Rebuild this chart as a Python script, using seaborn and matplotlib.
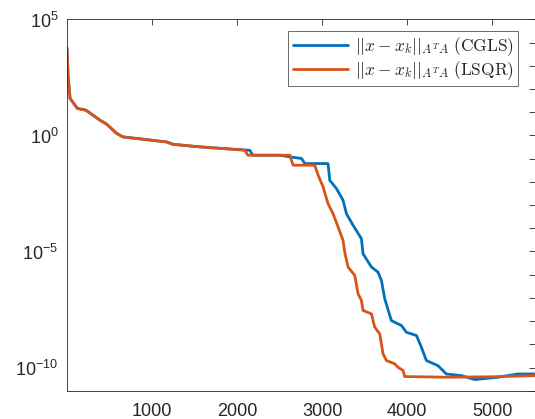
import numpy as np
import pandas as pd
import seaborn as sns
import matplotlib
matplotlib.use('Agg')
import matplotlib.pyplot as plt
from matplotlib.font_manager import FontProperties

sns.set_style('white')
plt.rcParams['font.family'] = ['Liberation Sans', 'DejaVu Sans']

# iteration numbers and log10 of the error norm
cgls_iter = [1, 15, 38, 123, 225, 390, 468, 586, 660, 1173, 1246, 1563, 2111,
             2150, 2185, 2502, 2620, 2757, 2796, 3069, 3089, 3168, 3245, 3285,
             3363, 3461, 3480, 3579, 3656, 3696, 3735, 3813, 3931, 3989, 4107,
             4166, 4224, 4360, 4418, 4459, 4635, 4791, 5065, 5299, 5500]
cgls_exp = [3.78, 2.6, 1.6, 1.17, 1.09, 0.66, 0.49, 0.09, -0.06, -0.28, -0.38,
            -0.49, -0.63, -0.635, -0.85, -0.85, -0.92, -0.99, -1.21, -1.21,
            -1.93, -2.29, -2.79, -3.37, -3.87, -4.45, -5.10, -5.67, -5.89,
            -6.25, -7.04, -7.98, -8.19, -8.48, -8.62, -9.13, -9.70, -9.92,
            -10.13, -10.28, -10.35, -10.52, -10.42, -10.28, -10.28]

lsqr_iter = [1, 15, 38, 123, 225, 390, 468, 586, 660, 1173, 1246, 1563, 2092,
             2127, 2620, 2658, 2913, 2952, 3011, 3069, 3128, 3187, 3245, 3265,
             3304, 3383, 3421, 3461, 3480, 3579, 3617, 3676, 3715, 3755, 3852,
             3891, 3950, 3969, 4474, 5000, 5500]
lsqr_exp = [3.78, 2.6, 1.6, 1.17, 1.09, 0.66, 0.49, 0.09, -0.06, -0.28, -0.38,
            -0.49, -0.635, -0.85, -0.85, -1.28, -1.28, -1.71, -2.22, -2.94,
            -3.37, -3.95, -4.52, -5.03, -5.67, -6.03, -6.82, -7.11, -7.54,
            -7.69, -8.26, -8.55, -9.41, -9.70, -9.84, -9.99, -10.13, -10.39,
            -10.42, -10.40, -10.35]

labels = [r'$||x-x_k||_{A^TA}\ \mathrm{(CGLS)}$',
          r'$||x-x_k||_{A^TA}\ \mathrm{(LSQR)}$']
colors = ['#0072BD', '#D95319']

df = pd.concat([
    pd.DataFrame({'iter': cgls_iter, 'err': 10.0 ** np.array(cgls_exp), 'method': labels[0]}),
    pd.DataFrame({'iter': lsqr_iter, 'err': 10.0 ** np.array(lsqr_exp), 'method': labels[1]}),
])

fig = plt.figure(figsize=(5.35, 4.19), dpi=100)
ax = fig.add_axes([66.8 / 535, 28.3 / 419, (535 - 66.8) / 535, (390.7 - 19.5) / 419])

sns.lineplot(data=df, x='iter', y='err', hue='method', palette=colors,
             linewidth=2, ax=ax, sort=False)

ax.set_yscale('log')
ax.set_xlim(0, 5500)
ax.set_ylim(1e-11, 1e5)
ax.set_xticks([1000, 2000, 3000, 4000, 5000])
ax.set_yticks([1e-10, 1e-5, 1e0, 1e5])
ax.set_yticks([10.0 ** k for k in range(-11, 6)], minor=True)
ax.yaxis.set_minor_formatter(plt.NullFormatter())
ax.set_xlabel('')
ax.set_ylabel('')

for s in ax.spines.values():
    s.set_color('#262626')
    s.set_linewidth(0.6)
ax.tick_params(which='both', direction='in', top=True, right=True,
               length=4, width=0.6, color='#262626')
ax.tick_params(axis='both', which='major', labelsize=13, labelcolor='#262626')
ax.tick_params(axis='x', pad=9)
ax.tick_params(axis='y', pad=6)

leg_font = FontProperties(size=12.5, math_fontfamily='cm')
handles, _ = ax.get_legend_handles_labels()
leg = ax.legend(handles, labels, loc='upper right', prop=leg_font,
                frameon=True, fancybox=False, edgecolor='#262626',
                handlelength=3.2, handletextpad=0.4, borderpad=0.25,
                labelspacing=0.05, bbox_to_anchor=(0.983, 0.992))
leg.get_frame().set_linewidth(0.6)

fig.savefig('out.png', dpi=100)
